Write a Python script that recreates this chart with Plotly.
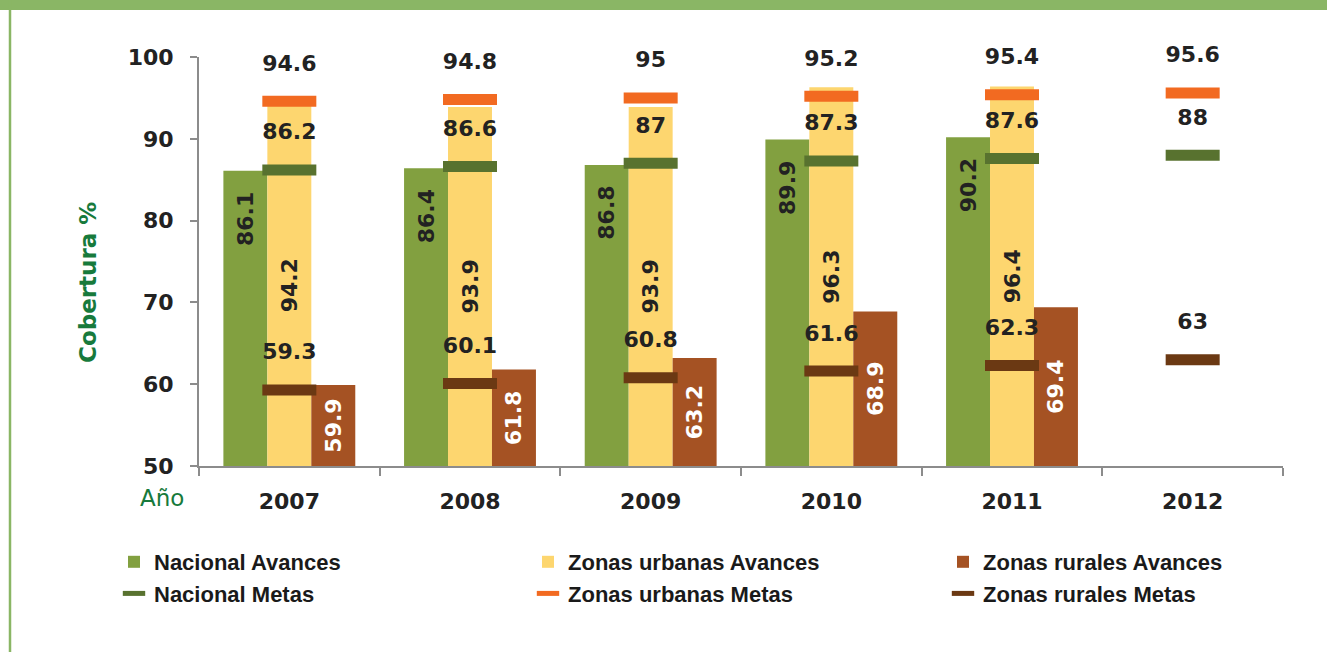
import plotly.graph_objects as go

years = ["2007", "2008", "2009", "2010", "2011", "2012"]
nac_av = [86.1, 86.4, 86.8, 89.9, 90.2, None]
urb_av = [94.2, 93.9, 93.9, 96.3, 96.4, None]
rur_av = [59.9, 61.8, 63.2, 68.9, 69.4, None]
nac_meta = [86.2, 86.6, 87.0, 87.3, 87.6, 88.0]
urb_meta = [94.6, 94.8, 95.0, 95.2, 95.4, 95.6]
rur_meta = [59.3, 60.1, 60.8, 61.6, 62.3, 63.0]

AXIS_MIN = 50
W, H = 1327, 652
ML, MR, MT, MB = 199, 44, 57, 186
PW, PH = W - ML - MR, H - MT - MB
BARGAP = 0.27
BAR_PX = PW / len(years) * (1 - BARGAP) / 3

def px_x(p):
    return (p - ML) / PW

def px_y(p):
    return (H - MB - p) / PH

def fmt(v):
    return "" if v is None else f"{v:g}"

NUMFONT = dict(family="DejaVu Sans", size=22, color="#222222", weight="bold")
LEGFONT = dict(family="Liberation Sans, Arial, sans-serif", size=22, color="#1a1a1a", weight="bold")

fig = go.Figure()

bar_specs = [
    ("Nacional Avances", nac_av, "#82A040", "#222222", "legend"),
    ("Zonas urbanas Avances", urb_av, "#FDD66F", "#222222", "legend2"),
    ("Zonas rurales Avances", rur_av, "#A55223", "#FFFFFF", "legend3"),
]
for i, (name, vals, col, tcol, leg) in enumerate(bar_specs):
    fig.add_trace(go.Bar(
        name=name, x=years,
        y=[None if v is None else v - AXIS_MIN for v in vals],
        base=AXIS_MIN,
        marker=dict(color=col, line=dict(width=0)),
        text=None if i == 0 else [fmt(v) for v in vals],
        textposition="inside", insidetextanchor="middle", textangle=-90,
        textfont=dict(NUMFONT, color=tcol),
        constraintext="none",
        legend=leg, legendrank=1,
    ))

meta_specs = [
    ("Nacional Metas", nac_meta, "#58722F", "legend"),
    ("Zonas urbanas Metas", urb_meta, "#F26A21", "legend2"),
    ("Zonas rurales Metas", rur_meta, "#6B3913", "legend3"),
]
for name, vals, col, leg in meta_specs:
    fig.add_trace(go.Scatter(
        name=name, x=years, y=vals, mode="markers+text",
        marker=dict(symbol="line-ew", size=54 / 1.4, color=col,
                    line=dict(width=11, color=col)),
        text=[fmt(v) for v in vals], textposition="top center",
        textfont=NUMFONT,
        cliponaxis=False,
        legend=leg, legendrank=2,
    ))

# labels of the Nacional bars, placed near the top inside each bar
annotations = []
for idx, v in enumerate(nac_av):
    if v is None:
        continue
    annotations.append(dict(
        x=idx, y=v, xref="x", yref="y", text=fmt(v), textangle=-90,
        xanchor="center", yanchor="top", xshift=-BAR_PX, yshift=-19,
        showarrow=False, font=NUMFONT,
    ))

annotations += [
    dict(text="Cobertura %", xref="paper", yref="paper", x=px_x(88), y=px_y(283),
         xanchor="center", yanchor="middle", textangle=-90, showarrow=False,
         font=dict(family="DejaVu Sans", size=23, color="#177A3C", weight="bold")),
    dict(text="Año", xref="paper", yref="paper", x=px_x(186), y=px_y(498),
         xanchor="right", yanchor="middle", showarrow=False,
         font=dict(family="DejaVu Sans", size=23, color="#177A3C")),
]

def leg(xpx):
    return dict(
        orientation="v", x=px_x(xpx), y=px_y(541), xanchor="left", yanchor="top",
        font=LEGFONT, bgcolor="rgba(0,0,0,0)", traceorder="normal",
        tracegroupgap=0, itemwidth=30,
    )

fig.update_layout(
    width=W, height=H,
    margin=dict(l=ML, r=MR, t=MT, b=MB),
    paper_bgcolor="white", plot_bgcolor="white",
    barmode="group", bargap=BARGAP, bargroupgap=0,
    showlegend=True,
    legend=leg(114), legend2=leg(528), legend3=leg(943),
    xaxis=dict(
        type="category", categoryorder="array", categoryarray=years,
        range=[-0.5, len(years) - 0.5],
        showline=True, linecolor="#8c8c8c", linewidth=2,
        ticks="outside", tickson="boundaries", ticklen=8, tickwidth=2, tickcolor="#8c8c8c",
        tickfont=NUMFONT, ticklabelstandoff=15, showgrid=False,
    ),
    yaxis=dict(
        range=[AXIS_MIN, 100], dtick=10, showline=True, linecolor="#8c8c8c", linewidth=2,
        ticks="outside", ticklen=7, tickwidth=2, tickcolor="#8c8c8c",
        tickfont=NUMFONT, ticklabelstandoff=12, showgrid=False, zeroline=False,
    ),
    shapes=[
        dict(type="rect", xref="paper", yref="paper", x0=px_x(0), x1=px_x(W),
             y0=px_y(10), y1=px_y(0), fillcolor="#8AB665", line=dict(width=0), layer="above"),
        dict(type="line", xref="paper", yref="paper", x0=px_x(10), x1=px_x(10),
             y0=px_y(H), y1=px_y(0), line=dict(color="#8AB665", width=2.5)),
    ],
    annotations=annotations,
)

fig.write_html("out.html", config={"displayModeBar": False},
               post_script="document.body.style.margin='0px';document.body.style.overflow='hidden';")
